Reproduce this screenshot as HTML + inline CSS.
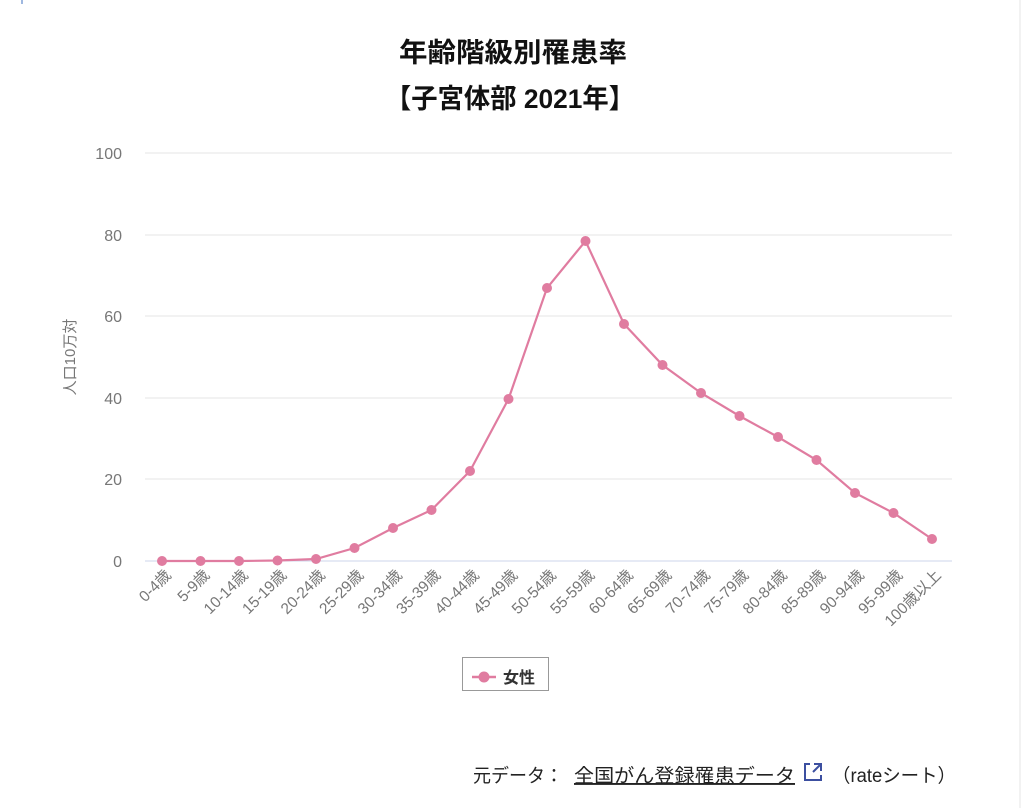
<!DOCTYPE html>
<html><head><meta charset="utf-8"><style>
html,body{margin:0;padding:0;background:#fff;width:1024px;height:808px;overflow:hidden}
</style></head><body>
<svg width="1024" height="808" xmlns="http://www.w3.org/2000/svg" font-family="Liberation Sans, Noto Sans CJK JP, sans-serif">
<rect x="0" y="0" width="1024" height="808" fill="#fff"/>
<line x1="1020" y1="0" x2="1020" y2="808" stroke="#e6e6e6" stroke-width="1"/>
<line x1="22" y1="0" x2="22" y2="4" stroke="#9fb8e0" stroke-width="2"/>
<text x="399" y="62" textLength="228" lengthAdjust="spacingAndGlyphs" font-size="27" font-weight="bold" fill="#111">年齢階級別罹患率</text>
<text x="385" y="108" textLength="250" lengthAdjust="spacingAndGlyphs" font-size="27" font-weight="bold" fill="#111">【子宮体部 2021年】</text>
<g stroke="#e6e6e6" stroke-width="1">
<line x1="145" y1="153" x2="952" y2="153"/>
<line x1="145" y1="235" x2="952" y2="235"/>
<line x1="145" y1="316" x2="952" y2="316"/>
<line x1="145" y1="398" x2="952" y2="398"/>
<line x1="145" y1="479" x2="952" y2="479"/>
</g>
<line x1="145" y1="561" x2="952" y2="561" stroke="#ccd6eb" stroke-width="1"/>
<g font-size="16" fill="#777" text-anchor="end">
<text x="122" y="159">100</text>
<text x="122" y="241">80</text>
<text x="122" y="322">60</text>
<text x="122" y="404">40</text>
<text x="122" y="485">20</text>
<text x="122" y="567">0</text>
</g>
<text transform="translate(75,357) rotate(-90)" text-anchor="middle" font-size="15" fill="#777">人口10万対</text>
<polyline fill="none" stroke="#e07ca0" stroke-width="2.2" points="162,561 200.5,561 239,561 277.5,560.5 316,559 354.5,548 393,528 431.5,510 470,471 508.5,399 547,288 585.5,241 624,324 662.5,365 701,393 739.5,416 778,437 816.5,460 855,493 893.5,513 932,539"/>
<g fill="#e07ca0">
<circle cx="162" cy="561" r="5"/><circle cx="200.5" cy="561" r="5"/><circle cx="239" cy="561" r="5"/><circle cx="277.5" cy="560.5" r="5"/><circle cx="316" cy="559" r="5"/><circle cx="354.5" cy="548" r="5"/><circle cx="393" cy="528" r="5"/><circle cx="431.5" cy="510" r="5"/><circle cx="470" cy="471" r="5"/><circle cx="508.5" cy="399" r="5"/><circle cx="547" cy="288" r="5"/><circle cx="585.5" cy="241" r="5"/><circle cx="624" cy="324" r="5"/><circle cx="662.5" cy="365" r="5"/><circle cx="701" cy="393" r="5"/><circle cx="739.5" cy="416" r="5"/><circle cx="778" cy="437" r="5"/><circle cx="816.5" cy="460" r="5"/><circle cx="855" cy="493" r="5"/><circle cx="893.5" cy="513" r="5"/><circle cx="932" cy="539" r="5"/>
</g>
<g font-size="15.5" fill="#777" text-anchor="end">
<text transform="translate(172,576) rotate(-45)">0-4歳</text>
<text transform="translate(210.5,576) rotate(-45)">5-9歳</text>
<text transform="translate(249,576) rotate(-45)">10-14歳</text>
<text transform="translate(287.5,576) rotate(-45)">15-19歳</text>
<text transform="translate(326,576) rotate(-45)">20-24歳</text>
<text transform="translate(364.5,576) rotate(-45)">25-29歳</text>
<text transform="translate(403,576) rotate(-45)">30-34歳</text>
<text transform="translate(441.5,576) rotate(-45)">35-39歳</text>
<text transform="translate(480,576) rotate(-45)">40-44歳</text>
<text transform="translate(518.5,576) rotate(-45)">45-49歳</text>
<text transform="translate(557,576) rotate(-45)">50-54歳</text>
<text transform="translate(595.5,576) rotate(-45)">55-59歳</text>
<text transform="translate(634,576) rotate(-45)">60-64歳</text>
<text transform="translate(672.5,576) rotate(-45)">65-69歳</text>
<text transform="translate(711,576) rotate(-45)">70-74歳</text>
<text transform="translate(749.5,576) rotate(-45)">75-79歳</text>
<text transform="translate(788,576) rotate(-45)">80-84歳</text>
<text transform="translate(826.5,576) rotate(-45)">85-89歳</text>
<text transform="translate(865,576) rotate(-45)">90-94歳</text>
<text transform="translate(903.5,576) rotate(-45)">95-99歳</text>
<text transform="translate(942,576) rotate(-45)">100歳以上</text>
</g>
<rect x="462.5" y="657.5" width="86" height="33" fill="#fff" stroke="#999" stroke-width="1"/>
<line x1="472" y1="677" x2="496" y2="677" stroke="#e07ca0" stroke-width="2.5"/>
<circle cx="484" cy="677" r="5.5" fill="#e07ca0"/>
<text x="503" y="683" font-size="16" font-weight="bold" fill="#333">女性</text>
<text x="473" y="782" font-size="19" fill="#222" textLength="90" lengthAdjust="spacingAndGlyphs">元データ：</text>
<text x="574" y="782" font-size="19" fill="#222" text-decoration="underline" textLength="221" lengthAdjust="spacingAndGlyphs">全国がん登録罹患データ</text>
<g stroke="#3c4fa0" stroke-width="2" fill="none">
<path d="M810 764 h-5 v16 h16 v-5"/>
<path d="M814 764 h7 v7 M821 764 l-8 8"/>
</g>
<text x="832" y="782" font-size="19" fill="#222" textLength="124" lengthAdjust="spacingAndGlyphs">（rateシート）</text>
</svg>
</body></html>
